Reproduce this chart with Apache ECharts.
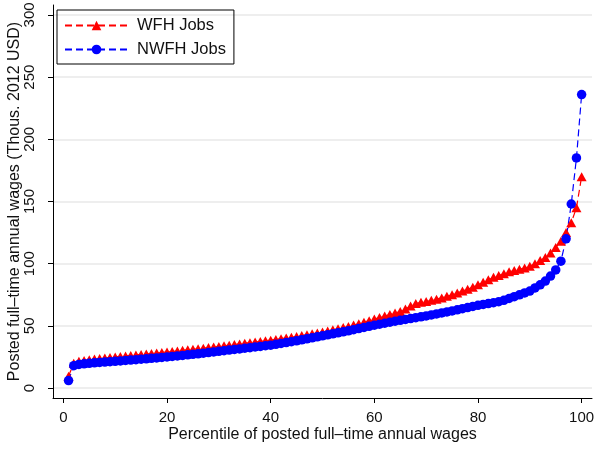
<!DOCTYPE html>
<html><head><meta charset="utf-8">
<script src="https://cdn.jsdelivr.net/npm/echarts@6/dist/echarts.min.js"></script>
<style>html,body{margin:0;padding:0;background:#fff}#c{width:595px;height:449px}</style>
</head><body><div id="c"></div>
<script>
const percentiles = Array.from({length: 100}, (_, i) => i + 1);
const wfhJobs = [9.5, 20.0, 21.5, 22.2, 22.8, 23.3, 23.8, 24.2, 24.6, 25.0,
 25.4, 25.8, 26.2, 26.6, 27.0, 27.4, 27.8, 28.2, 28.6, 29.0,
 29.4, 29.8, 30.3, 30.7, 31.2, 31.6, 32.1, 32.6, 33.0, 33.5,
 34.0, 34.5, 35.0, 35.5, 36.0, 36.5, 37.0, 37.5, 38.0, 38.5,
 39.1, 39.7, 40.3, 40.9, 41.5, 42.2, 42.9, 43.6, 44.3, 45.0,
 45.9, 46.8, 47.7, 48.6, 49.5, 50.6, 51.7, 52.9, 54.2, 55.5,
 56.7, 57.9, 59.1, 60.3, 61.5, 63.5, 66.0, 68.0, 69.0, 69.5,
 70.5, 71.5, 72.5, 73.8, 75.0, 76.5, 78.0, 79.5, 81.0, 83.0,
 85.0, 87.0, 89.0, 90.5, 92.0, 93.5, 94.5, 95.5, 96.5, 98.0,
 100.0, 102.5, 105.0, 108.5, 113.0, 118.0, 125.0, 133.0, 145.0, 170.0];
const nwfhJobs = [6.0, 18.0, 19.0, 19.5, 19.9, 20.3, 20.6, 20.9, 21.2, 21.5,
 21.8, 22.2, 22.5, 22.8, 23.2, 23.5, 23.9, 24.2, 24.6, 25.0,
 25.4, 25.8, 26.2, 26.7, 27.1, 27.5, 28.0, 28.5, 29.0, 29.5,
 30.0, 30.5, 31.0, 31.5, 32.0, 32.5, 33.0, 33.5, 34.0, 34.5,
 35.2, 35.9, 36.6, 37.3, 38.0, 38.8, 39.6, 40.4, 41.2, 42.0,
 42.8, 43.6, 44.4, 45.2, 46.0, 46.9, 47.8, 48.7, 49.6, 50.5,
 51.3, 52.1, 52.9, 53.7, 54.5, 55.2, 55.9, 56.6, 57.3, 58.0,
 58.8, 59.6, 60.4, 61.2, 62.0, 62.9, 63.8, 64.7, 65.6, 66.5,
 67.2, 67.9, 68.6, 69.4, 70.5, 72.0, 73.5, 75.0, 76.5, 78.0,
 80.5, 83.0, 86.0, 90.0, 95.0, 102.0, 120.0, 148.0, 185.0, 236.0];
const xTicks = [0, 20, 40, 60, 80, 100];
const yTicks = [0, 50, 100, 150, 200, 250, 300];
const seriesNames = ['WFH Jobs', 'NWFH Jobs'];

const FONT = 'Liberation Sans, Arial, sans-serif';
const chart = echarts.init(document.getElementById('c'), null, {renderer: 'canvas'});
const pair = (vals) => percentiles.map((p, i) => [p, vals[i]]);
chart.setOption({
  animation: false,
  backgroundColor: '#fff',
  grid: {left: 53, right: 3, top: 5, bottom: 51, containLabel: false, outerBoundsMode: 'none'},
  legend: {
    orient: 'vertical', left: 57, top: 10,
    borderColor: '#000', borderWidth: 1,
    padding: [7, 8, 6, 7],
    itemWidth: 63, itemHeight: 12, itemGap: 7,
    textStyle: {fontFamily: FONT, fontSize: 16.5, color: '#111', padding: [0, 0, 0, 4]},
    data: seriesNames
  },
  xAxis: {
    type: 'value', min: -2, max: 102,
    name: 'Percentile of posted full\u2013time annual wages',
    nameLocation: 'middle', nameGap: 29, nameMoveOverlap: false,
    nameTextStyle: {fontFamily: FONT, fontSize: 16, color: '#111'},
    axisLine: {show: true, onZero: false, lineStyle: {color: '#000', width: 1}},
    axisTick: {show: true, length: 5, customValues: xTicks, lineStyle: {color: '#000'}},
    axisLabel: {customValues: xTicks, fontFamily: FONT, fontSize: 15, color: '#111', margin: 12},
    splitLine: {show: false}
  },
  yAxis: {
    type: 'value', min: -8, max: 308,
    name: 'Posted full\u2013time annual wages (Thous. 2012 USD)',
    nameLocation: 'middle', nameGap: 30, nameMoveOverlap: false,
    nameTextStyle: {fontFamily: FONT, fontSize: 16, color: '#111'},
    axisLine: {show: true, onZero: false, lineStyle: {color: '#000', width: 1}},
    axisTick: {show: true, length: 5, customValues: yTicks, lineStyle: {color: '#000'}},
    axisLabel: {customValues: yTicks, rotate: 90, fontFamily: FONT, fontSize: 15, color: '#111', margin: 16},
    splitLine: {show: true, customValues: yTicks, lineStyle: {color: '#e8e8e8', width: 1.5}}
  },
  series: [
    {
      name: seriesNames[0], type: 'line', data: pair(wfhJobs),
      symbol: 'triangle', symbolSize: [10, 9], showAllSymbol: true,
      itemStyle: {color: '#ff0000'},
      lineStyle: {color: '#ff0000', width: 1.2, type: [7, 4]}
    },
    {
      name: seriesNames[1], type: 'line', data: pair(nwfhJobs),
      symbol: 'circle', symbolSize: 9.5, showAllSymbol: true,
      itemStyle: {color: '#0000ff'},
      lineStyle: {color: '#0000ff', width: 1.2, type: [7, 4]}
    }
  ]
});
</script></body></html>
